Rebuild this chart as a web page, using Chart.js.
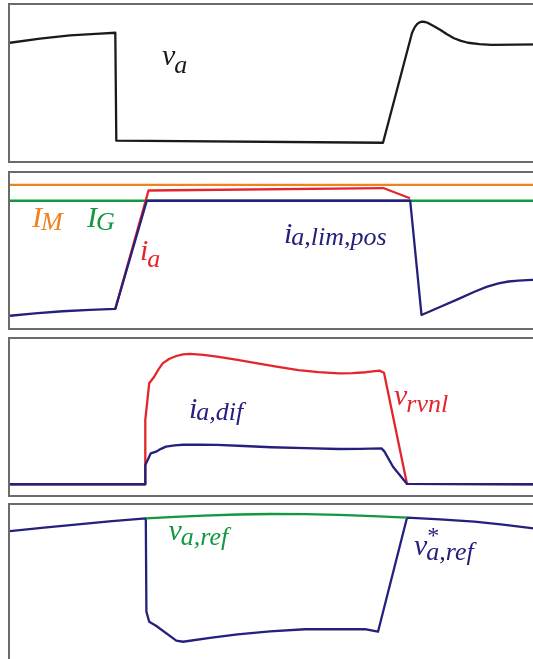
<!DOCTYPE html>
<html>
<head>
<meta charset="utf-8">
<script src="https://cdn.jsdelivr.net/npm/chart.js@4.4.1/dist/chart.umd.min.js"></script>
<style>
  html, body { margin: 0; padding: 0; background: #fff; width: 533px; height: 659px; overflow: hidden; }
  .panel { position: absolute; left: 8px; width: 560px; border: 2px solid #6b6b6b; box-sizing: border-box; }
  .panel canvas { position: absolute; left: 0; top: 0; }
</style>
</head>
<body>
<div class="panel" style="top:3px;height:160px"><canvas id="c1" width="530" height="156"></canvas></div>
<div class="panel" style="top:171px;height:159px"><canvas id="c2" width="530" height="155"></canvas></div>
<div class="panel" style="top:337px;height:160px"><canvas id="c3" width="530" height="156"></canvas></div>
<div class="panel" style="top:503px;height:200px"><canvas id="c4" width="530" height="176"></canvas></div>

<script>
// time axis (ms) shared by all four traces, values in per unit
const tMax = 106;

// terminal voltage v_a
const vaT = [0, 6, 12, 18, 21.06, 21.26, 74.6, 80.4, 80.9, 81.4, 81.9, 82.4, 83.0, 83.6, 84.8, 86.1, 87.4, 88.8, 90.2, 91.6, 93.9, 96.3, 106];
const vaV = [0.758, 0.785, 0.805, 0.817, 0.822, 0.130, 0.117, 0.821, 0.855, 0.877, 0.889, 0.893, 0.891, 0.885, 0.864, 0.840, 0.812, 0.787, 0.770, 0.758, 0.749, 0.745, 0.748];

// current limits and phase current
const iM = 0.923;
const iG = 0.821;
const iaT = [21.06, 27.7, 74.66, 80.0];
const iaV = [0.123, 0.887, 0.903, 0.837];
const iLimT = [0, 5, 10.5, 16, 21.06, 27.36, 80.04, 82.3, 86.1, 89.5, 92.9, 95.3, 97.7, 99.7, 101.7, 104.3, 106];
const iLimV = [0.079, 0.095, 0.108, 0.117, 0.123, 0.821, 0.821, 0.084, 0.137, 0.185, 0.234, 0.265, 0.288, 0.300, 0.305, 0.310, 0.310];

// virtual nonlinear resistor voltage and differential current
const vRvnlT = [0, 27.0, 27.06, 27.84, 28.84, 29.7, 30.54, 31.8, 33.26, 34.6, 35.96, 38.7, 41.4, 45.5, 49.5, 53.6, 57.7, 61.7, 65.8, 68.5, 71.2, 73.9, 74.8, 79.4, 106];
const vRvnlV = [0.069, 0.069, 0.481, 0.716, 0.758, 0.805, 0.844, 0.872, 0.891, 0.901, 0.904, 0.898, 0.887, 0.866, 0.844, 0.822, 0.801, 0.788, 0.780, 0.781, 0.787, 0.797, 0.784, 0.071, 0.069];
const iDifT = [0, 27.0, 27.06, 28.16, 29.2, 30.2, 31.2, 32.9, 34.6, 38, 41.4, 46.8, 52.2, 59, 65.8, 70, 74.3, 74.9, 76.6, 79.4, 106];
const iDifV = [0.069, 0.069, 0.192, 0.267, 0.278, 0.296, 0.310, 0.318, 0.322, 0.323, 0.321, 0.314, 0.306, 0.300, 0.295, 0.296, 0.299, 0.278, 0.181, 0.071, 0.069];

// voltage reference before and after the limiter
const vRefT = [27.16, 33, 38.7, 45.5, 52.2, 59, 65.8, 72.6, 79.4];
const vRefV = [0.924, 0.933, 0.940, 0.946, 0.949, 0.948, 0.944, 0.937, 0.928];
const vRefStarT = [0, 6.8, 13.6, 20.4, 27.16, 27.28, 27.84, 29.2, 33.26, 34.6, 40, 45.5, 52, 59, 71.2, 73.6, 79.4, 86, 92.9, 98.6, 104.3, 106];
const vRefStarV = [0.852, 0.872, 0.890, 0.908, 0.924, 0.394, 0.337, 0.314, 0.229, 0.223, 0.245, 0.265, 0.282, 0.294, 0.294, 0.280, 0.928, 0.918, 0.905, 0.888, 0.868, 0.862];

const BLACK = '#1a1a1a';
const RED = '#e3262b';
const NAVY = '#25207c';
const ORANGE = '#f0811f';
const GREEN = '#12983f';

function pts(ts, vs) {
  return ts.map((t, i) => ({ x: t, y: vs[i] }));
}

// italic symbol with subscript (and optional superscript) placed at a (t, value) spot
const curveLabels = {
  id: 'curveLabels',
  afterDatasetsDraw(chart, args, opts) {
    const { ctx, scales: { x, y } } = chart;
    ctx.save();
    ctx.textBaseline = 'alphabetic';
    (opts.items || []).forEach(l => {
      const px = x.getPixelForValue(l.t);
      const py = y.getPixelForValue(l.v);
      ctx.fillStyle = l.color;
      ctx.font = 'italic 30px "Liberation Serif"';
      ctx.fillText(l.main, px, py);
      const w = ctx.measureText(l.main).width;
      if (l.sup) {
        ctx.font = '24px "Liberation Serif"';
        ctx.fillText(l.sup, px + w, py - 12);
      }
      ctx.font = 'italic 26px "Liberation Serif"';
      ctx.fillText(l.sub, px + w - 1, py + l.drop);
    });
    ctx.restore();
  }
};
Chart.register(curveLabels);

function line(data, color, order) {
  return {
    data: data,
    borderColor: color,
    borderWidth: 2.3,
    pointRadius: 0,
    fill: false,
    order: order,
    tension: 0,
    borderJoinStyle: 'round'
  };
}

function makeChart(id, datasets, labels) {
  return new Chart(document.getElementById(id), {
    type: 'line',
    data: { datasets: datasets },
    options: {
      responsive: false,
      animation: false,
      layout: { padding: 0 },
      plugins: {
        legend: { display: false },
        tooltip: { enabled: false },
        curveLabels: { items: labels }
      },
      scales: {
        x: { type: 'linear', min: 0, max: tMax, display: false },
        y: { min: 0, max: 1, display: false }
      }
    }
  });
}

makeChart('c1', [
  line(pts(vaT, vaV), BLACK, 0)
], [
  { main: 'v', sub: 'a', t: 30.4, v: 0.615, drop: 8, color: BLACK }
]);

makeChart('c2', [
  line(pts(iLimT, iLimV), NAVY, 0),
  line(pts(iaT, iaV), RED, 1),
  line(pts([0, tMax], [iG, iG]), GREEN, 2),
  line(pts([0, tMax], [iM, iM]), ORANGE, 3)
], [
  { main: 'I', sub: 'M', t: 4.4, v: 0.650, drop: 3, color: ORANGE },
  { main: 'I', sub: 'G', t: 15.4, v: 0.650, drop: 3, color: GREEN },
  { main: 'i', sub: 'a', t: 26.0, v: 0.439, drop: 7, color: RED },
  { main: 'i', sub: 'a,lim,pos', t: 54.8, v: 0.548, drop: 2, color: NAVY }
]);

makeChart('c3', [
  line(pts(iDifT, iDifV), NAVY, 0),
  line(pts(vRvnlT, vRvnlV), RED, 1)
], [
  { main: 'i', sub: 'a,dif', t: 35.8, v: 0.494, drop: 2, color: NAVY },
  { main: 'v', sub: 'rvnl', t: 76.8, v: 0.577, drop: 7, color: RED }
]);

makeChart('c4', [
  line(pts(vRefStarT, vRefStarV), NAVY, 1),
  line(pts(vRefT, vRefV), GREEN, 0)
], [
  { main: 'v', sub: 'a,ref', t: 31.7, v: 0.801, drop: 5, color: GREEN },
  { main: 'v', sub: 'a,ref', sup: '*', t: 80.8, v: 0.716, drop: 5, color: NAVY }
]);
</script>
</body>
</html>
